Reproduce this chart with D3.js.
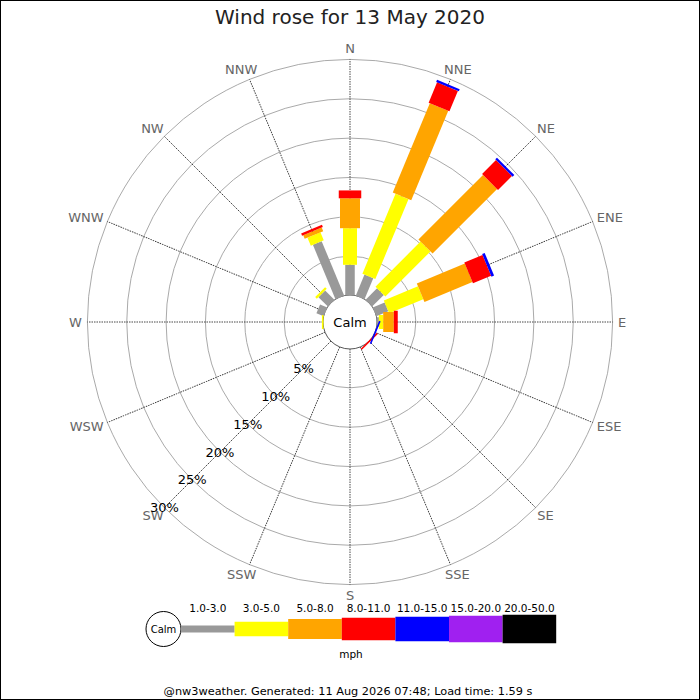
<!DOCTYPE html>
<html>
<head>
<meta charset="utf-8">
<script src="https://cdn.jsdelivr.net/npm/d3@7"></script>
<style>
  html, body { margin: 0; padding: 0; background: #fff; }
  svg { display: block; font-family: "DejaVu Sans", sans-serif; }
</style>
</head>
<body>
<svg id="chart" width="700" height="700"></svg>
<script>
// ---- data ----
const title = "Wind rose for 13 May 2020";
const directions = ["N","NNE","NE","ENE","E","ESE","SE","SSE","S","SSW","SW","WSW","W","WNW","NW","NNW"];
const speedBins = ["1.0-3.0","3.0-5.0","5.0-8.0","8.0-11.0","11.0-15.0","15.0-20.0","20.0-50.0"];
const binColors = ["#999999","#ffff00","#ffa500","#ff0000","#0000ff","#a020f0","#000000"];
// percent of time per direction, for each speed bin (mph)
const pct_1_3   = [3.9, 2.9, 2.1, 1.65, 0.3, 0,   0,   0, 0, 0, 0, 0, 0,   1.0, 1.7, 7.5];
const pct_3_5   = [4.65,11.0,8.1, 4.7,  0.55,0,   0,   0, 0, 0, 0, 0, 0.2, 0,   0.3, 1.1];
const pct_5_8   = [3.8, 12.3,11.6,6.6,  1.35,0,   0,   0, 0, 0, 0, 0, 0,   0,   0,   0.5];
const pct_8_11  = [1.0, 2.8, 2.5, 2.5,  0.5, 0,   0.2, 0, 0, 0, 0, 0, 0,   0,   0,   0.3];
const pct_11_15 = [0,   0.3, 0.3, 0.35, 0,   0.2, 0,   0, 0, 0, 0, 0, 0,   0,   0,   0];
const pct_15_20 = [0,0,0,0,0,0,0,0,0,0,0,0,0,0,0,0];
const pct_20_50 = [0,0,0,0,0,0,0,0,0,0,0,0,0,0,0,0];
const ringTicks = [5, 10, 15, 20, 25, 30];
const ringLabels = ["5%","10%","15%","20%","25%","30%"];
const unitLabel = "mph";
const calmLabel = "Calm";
const footer = "@nw3weather. Generated: 11 Aug 2026 07:48; Load time: 1.59 s";

// ---- layout ----
const series = [pct_1_3, pct_3_5, pct_5_8, pct_8_11, pct_11_15, pct_15_20, pct_20_50];
const W = 700, H = 700, cx = 350, cy = 322;
const calmR = 27;
const barWidths = [9.5, 14, 20, 22.5, 24.5, 26.5, 28.5];
const legendWidths = [7, 14.5, 20, 22.5, 24.5, 26.5, 28.5];

const svg = d3.select("#chart");
svg.append("rect").attr("x", 0.5).attr("y", 0.5).attr("width", W - 1).attr("height", H - 1)
  .attr("fill", "#fff").attr("stroke", "#000").attr("stroke-width", 1);

svg.append("text").attr("x", cx).attr("y", 24).attr("text-anchor", "middle")
  .attr("font-size", 20).attr("fill", "#222").text(title);

const r = d3.scaleLinear().domain([0, 30]).range([26.5, 262.6]);
const angle = d3.scalePoint().domain(directions).range([0, 360 - 360 / directions.length]);
const rad = d => angle(d) * Math.PI / 180;

const g = svg.append("g").attr("transform", `translate(${cx},${cy})`);

// rings
g.selectAll("circle.ring").data(ringTicks).join("circle")
  .attr("class", "ring").attr("r", d => r(d))
  .attr("fill", "none").attr("stroke", "#aaaaaa").attr("stroke-width", 1);

// radial lines
g.selectAll("line.spoke").data(directions).join("line")
  .attr("class", "spoke")
  .attr("x1", 0).attr("y1", -calmR).attr("x2", 0).attr("y2", -r(30))
  .attr("transform", d => `rotate(${angle(d)})`)
  .attr("stroke", "#333").attr("stroke-width", 0.9).attr("stroke-dasharray", "1.5,1");

// direction labels: box placed just outside the outer ring
const labR = r(30) + 5.5, capH = 9.4;
g.selectAll("text.dir").data(directions).join("text")
  .attr("class", "dir")
  .attr("font-size", 13).attr("fill", "#666").attr("text-anchor", "start")
  .text(d => d)
  .each(function(d) {
    const s = Math.sin(rad(d)), c = Math.cos(rad(d));
    const w = this.getComputedTextLength();
    const px = labR * s, py = -labR * c;
    const cyText = py - (capH / 2 + 0.6) * c;
    d3.select(this).attr("x", px - w * (1 - s) / 2).attr("y", cyText + capH / 2);
  });

// calm circle
g.append("circle").attr("r", calmR).attr("fill", "#fff").attr("stroke", "#555").attr("stroke-width", 1);

// bars (stacked)
const table = directions.map((d, i) => {
  const o = { dir: d };
  speedBins.forEach((b, j) => { o[b] = series[j][i]; });
  return o;
});
const stacked = d3.stack().keys(speedBins)(table);
stacked.forEach((layer, j) => {
  const w = barWidths[j];
  g.append("g").selectAll("rect").data(layer.filter(s => s[1] - s[0] > 0)).join("rect")
    .attr("x", -w / 2)
    .attr("y", s => -r(s[1]))
    .attr("width", w)
    .attr("height", s => r(s[1]) - r(s[0]))
    .attr("transform", s => `rotate(${angle(s.data.dir)})`)
    .attr("fill", binColors[j]);
});

g.append("text").attr("x", 0).attr("y", 0).attr("text-anchor", "middle")
  .attr("dominant-baseline", "central").attr("font-size", 13).attr("fill", "#000").text(calmLabel);

// percent labels along SW
const sw = rad("SW");
g.selectAll("text.pct").data(ringTicks).join("text")
  .attr("class", "pct")
  .attr("x", d => r(d) * Math.sin(sw))
  .attr("y", d => -r(d) * Math.cos(sw))
  .attr("text-anchor", "middle").attr("dominant-baseline", "central")
  .attr("font-size", 13).attr("fill", "#000").text((d, i) => ringLabels[i]);

// legend
const lx0 = 181, segW = 53.6, ly = 629;
const lx = d3.scaleBand().domain(speedBins).range([lx0, lx0 + segW * speedBins.length]).padding(0);
const leg = svg.append("g");
leg.append("circle").attr("cx", 163.5).attr("cy", ly).attr("r", 17.5)
  .attr("fill", "#fff").attr("stroke", "#000").attr("stroke-width", 1);
leg.append("text").attr("x", 163.5).attr("y", ly).attr("text-anchor", "middle")
  .attr("dominant-baseline", "central").attr("font-size", 10).attr("fill", "#000").text(calmLabel);
leg.selectAll("rect").data(speedBins).join("rect")
  .attr("x", d => lx(d)).attr("width", lx.bandwidth())
  .attr("y", (d, i) => ly - legendWidths[i] / 2).attr("height", (d, i) => legendWidths[i])
  .attr("fill", (d, i) => binColors[i]);
leg.selectAll("text.lab").data(speedBins).join("text")
  .attr("class", "lab")
  .attr("x", d => lx(d) + lx.bandwidth() / 2).attr("y", 608)
  .attr("text-anchor", "middle").attr("dominant-baseline", "central")
  .attr("font-size", 10.5).attr("fill", "#000").text(d => d);
leg.append("text").attr("x", 351).attr("y", 654).attr("text-anchor", "middle")
  .attr("dominant-baseline", "central").attr("font-size", 10.5).attr("fill", "#000").text(unitLabel);

svg.append("text").attr("x", 348).attr("y", 695).attr("text-anchor", "middle")
  .attr("font-size", 11.3).attr("fill", "#000").text(footer);
</script>
</body>
</html>
